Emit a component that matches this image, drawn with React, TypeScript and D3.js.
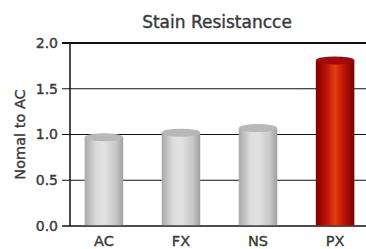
import React from 'react';
import * as d3 from 'd3';

const categories = ['AC', 'FX', 'NS', 'PX'];
const values = [0.97, 1.02, 1.07, 1.81];
const highlight = ['PX'];
const yTicks = [0, 0.5, 1.0, 1.5, 2.0];
const title = 'Stain Resistancce';
const yLabel = 'Nomal to AC';

const width = 366;
const height = 249;

const App = () => {
  const x = d3.scaleBand<string>()
    .domain(categories)
    .range([70, 369])
    .paddingInner(0.5)
    .paddingOuter(0.19);

  const y = d3.scaleLinear().domain([0, 2]).range([226, 43]);

  const bw = x.bandwidth();
  const ry = 4;
  const font = 'DejaVu Sans, sans-serif';
  const txt = '#3a3a3a';
  // slight stroke to give the medium weight of the original
  const textStyle = { stroke: txt, strokeWidth: 0.4 };

  return (
    <svg width={width} height={height}
      style={{ position: 'absolute', left: 0, top: 0, background: '#fff' }}>
      <defs>
        <linearGradient id="gray" x1="0" x2="1" y1="0" y2="0">
          <stop offset="0" stopColor="#a9a9a9" />
          <stop offset="0.3" stopColor="#dcdcdc" />
          <stop offset="0.5" stopColor="#e2e2e2" />
          <stop offset="0.8" stopColor="#c8c8c8" />
          <stop offset="1" stopColor="#a0a0a0" />
        </linearGradient>
        <linearGradient id="red" x1="0" x2="1" y1="0" y2="0">
          <stop offset="0" stopColor="#7e0000" />
          <stop offset="0.3" stopColor="#c41408" />
          <stop offset="0.5" stopColor="#e0400e" />
          <stop offset="0.7" stopColor="#c41408" />
          <stop offset="1" stopColor="#7a0000" />
        </linearGradient>
      </defs>

      <text x={217} y={28} textAnchor="middle" fontFamily={font}
        fontSize={17} fill={txt} style={textStyle}>{title}</text>

      {/* grid lines and ticks */}
      {yTicks.map(t => (
        <g key={t}>
          <line x1={62} x2={width} y1={y(t)} y2={y(t)}
            stroke="#111" strokeWidth={t === 2 ? 2.2 : t === 0 ? 1.6 : 1.2} />
          <text x={58} y={y(t)} dy="0.35em" textAnchor="end"
            fontFamily={font} fontSize={14} fill={txt} style={textStyle}>{t.toFixed(1)}</text>
        </g>
      ))}

      <line x1={70} x2={70} y1={y(2)} y2={y(0)} stroke="#111" strokeWidth={1.5} />

      <text transform={`translate(25,${(y(0) + y(2)) / 2}) rotate(-90)`}
        textAnchor="middle" fontFamily={font} fontSize={14.5}
        fill={txt} style={textStyle}>{yLabel}</text>

      {/* bars */}
      {categories.map((c, i) => {
        const x0 = x(c)!;
        const top = y(values[i]);
        const hot = highlight.includes(c);
        return (
          <g key={c}>
            <rect x={x0} y={top} width={bw} height={y(0) - top - 0.8}
              fill={hot ? 'url(#red)' : 'url(#gray)'} />
            <ellipse cx={x0 + bw / 2} cy={top} rx={bw / 2} ry={ry}
              fill={hot ? '#a40808' : '#b8b8b8'} />
            <text x={x0 + bw / 2} y={246} textAnchor="middle"
              fontFamily={font} fontSize={14.5} fill={txt} style={textStyle}>{c}</text>
          </g>
        );
      })}
    </svg>
  );
};

export default App;
